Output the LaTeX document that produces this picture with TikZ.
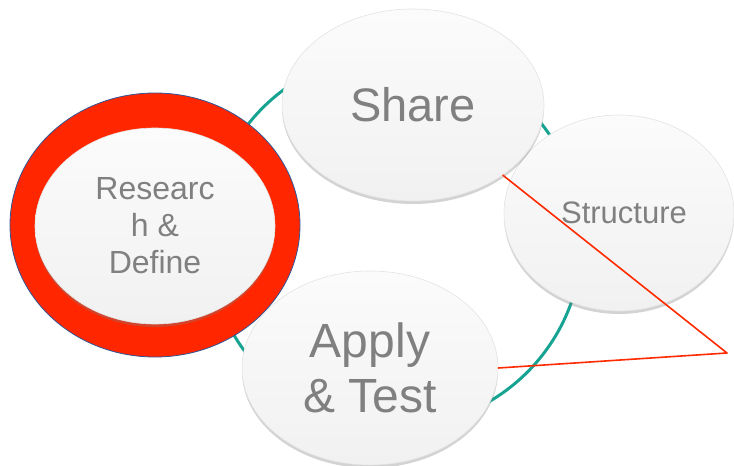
\documentclass[tikz,border=0pt]{standalone}
\usepackage{fontspec}
\setmainfont{Liberation Sans}
\usetikzlibrary{shapes.geometric,shadows}
\definecolor{cycleteal}{HTML}{17A392}
\definecolor{ringred}{HTML}{FF2600}
\definecolor{ringblue}{HTML}{2F5597}
\definecolor{textgrey}{HTML}{808080}
\definecolor{pointred}{HTML}{FF2A00}
\begin{document}
\begin{tikzpicture}[x=1pt,y=-1pt, line join=round, line cap=round,
	bubble/.style={ellipse, inner sep=0pt, align=center, text=textgrey,
		top color=white!98.5!black, bottom color=white!94.5!black,
		draw=white!89!black, line width=0.6pt,
		drop shadow={opacity=0.35, shadow xshift=0pt, shadow yshift=-3pt}}]
	\useasboundingbox (0,0) rectangle (734,466);
	% Vòng tròn nối các bước
	\draw[cycleteal, line width=3pt] (395,240) circle (187pt);
	% Vòng đỏ quanh bước đầu
	\node[ellipse, fill=ringred, draw=ringblue, line width=0.8pt,
		minimum width=290pt, minimum height=264pt] (ring) at (155,225) {};
	\node[bubble, minimum width=240pt, minimum height=196pt,
		font=\fontsize{32}{37}\selectfont] (research) at (155,226) {Researc\\h \&\\Define};
	\node[bubble, minimum width=230pt, minimum height=196pt,
		font=\fontsize{31}{36}\selectfont] (structure) at (619,213) {\hspace*{10pt}Structure};
	\node[bubble, minimum width=262pt, minimum height=192pt,
		font=\fontsize{47}{55}\selectfont] (share) at (413,105) {Share};
	\node[bubble, minimum width=256pt, minimum height=194pt,
		font=\fontsize{48}{55}\selectfont] (apply) at (370,368) {Apply\\\& Test};
	% Mảnh trắng ở góc phải
	\fill[white] (726,265) rectangle (734,340);
	% Hai đường đỏ
	\coordinate (tip) at (727,353);
	\draw[pointred, line width=1.6pt] (share.-38) -- (tip) -- (apply.east);
\end{tikzpicture}
\end{document}
